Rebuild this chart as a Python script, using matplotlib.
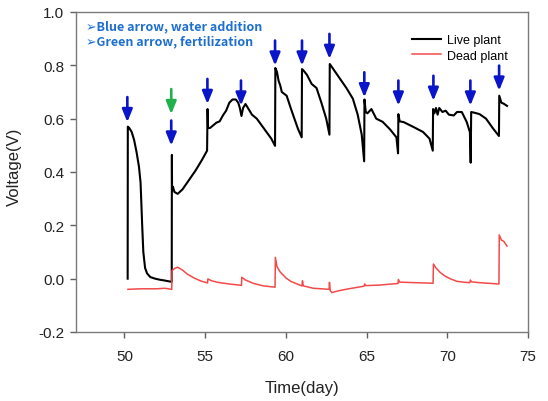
import matplotlib
matplotlib.use("Agg")
import matplotlib.pyplot as plt

plt.rcParams['font.family'] = ['Liberation Sans', 'DejaVu Sans']

# live plant voltage (V) vs time (day)
live_day = [50.20, 50.21, 50.30, 50.45, 50.60, 50.75, 50.90, 51.00, 51.05, 51.10,
            51.17, 51.28, 51.40, 51.60, 51.90, 52.20, 52.50, 52.75, 52.93, 52.94, 52.95,
            53.00, 53.10, 53.30, 53.60, 54.00, 54.40, 54.80, 55.12, 55.15, 55.18,
            55.30, 55.50, 55.70, 55.90, 56.10, 56.30, 56.50, 56.70, 56.90, 57.05,
            57.15, 57.25, 57.35, 57.50, 57.70, 57.90, 58.20, 58.50, 58.80, 59.10,
            59.33, 59.35, 59.45, 59.55, 59.65, 59.75, 60.05, 60.30, 60.50, 60.75,
            60.98, 61.00, 61.10, 61.30, 61.60, 61.90, 62.20, 62.50, 62.70, 62.72,
            62.95, 63.35, 63.75, 64.15, 64.45, 64.70, 64.85, 64.87, 64.95, 65.05,
            65.30, 65.60, 66.00, 66.45, 66.85, 66.95, 66.97, 67.05, 67.30, 67.90,
            68.50, 68.90, 69.10, 69.12, 69.20, 69.30, 69.40, 69.50, 69.70, 69.90,
            70.10, 70.40, 70.60, 70.90, 71.20, 71.40, 71.45, 71.48, 71.70, 72.00,
            72.40, 72.85, 73.20, 73.22, 73.35, 73.50, 73.70]
live_v = [0.000, 0.570, 0.565, 0.550, 0.520, 0.475, 0.420, 0.360, 0.280, 0.200,
          0.100, 0.040, 0.020, 0.006, 0.000, -0.004, -0.007, -0.010, -0.012, 0.464, 0.330,
          0.345, 0.325, 0.318, 0.335, 0.370, 0.405, 0.445, 0.480, 0.636, 0.565,
          0.565, 0.575, 0.585, 0.590, 0.612, 0.630, 0.660, 0.672, 0.672, 0.660,
          0.640, 0.610, 0.640, 0.655, 0.635, 0.615, 0.600, 0.575, 0.550, 0.525,
          0.498, 0.790, 0.775, 0.742, 0.725, 0.700, 0.686, 0.640, 0.605, 0.562,
          0.530, 0.786, 0.780, 0.765, 0.730, 0.715, 0.660, 0.600, 0.540, 0.805,
          0.785, 0.750, 0.715, 0.675, 0.615, 0.540, 0.440, 0.672, 0.625, 0.620,
          0.636, 0.600, 0.588, 0.560, 0.530, 0.470, 0.617, 0.590, 0.587, 0.569,
          0.550, 0.525, 0.480, 0.636, 0.620, 0.640, 0.615, 0.640, 0.625, 0.630,
          0.615, 0.612, 0.625, 0.625, 0.588, 0.550, 0.435, 0.625, 0.622, 0.617,
          0.600, 0.562, 0.535, 0.686, 0.660, 0.656, 0.648]

# dead plant voltage (V) vs time (day)
dead_day = [50.22, 51.00, 52.00, 52.50, 52.93, 52.95, 53.10, 53.30, 53.60, 53.90,
            54.30, 54.70, 55.15, 55.17, 55.40, 55.80, 56.50, 57.25, 57.27, 57.50,
            58.00, 58.60, 59.33, 59.35, 59.45, 59.65, 60.00, 60.30, 60.90, 61.00,
            61.03, 61.08, 61.70, 62.68, 62.70, 62.75, 62.85, 63.30, 63.80, 64.85,
            64.88, 64.95, 65.80, 66.95, 66.97, 67.05, 68.00, 69.12, 69.14, 69.30,
            69.55, 69.85, 70.17, 70.60, 71.00, 71.40, 71.43, 71.50, 72.00, 73.20,
            73.22, 73.35, 73.50, 73.70]
dead_v = [-0.040, -0.038, -0.038, -0.036, -0.040, 0.030, 0.038, 0.043, 0.032, 0.017,
          0.003, -0.008, -0.016, -0.001, -0.008, -0.014, -0.020, -0.025, 0.005, -0.005,
          -0.018, -0.027, -0.032, 0.080, 0.045, 0.025, 0.003, -0.010, -0.025, -0.027,
          -0.008, -0.027, -0.036, -0.040, -0.014, -0.045, -0.052, -0.045, -0.039, -0.028,
          -0.020, -0.026, -0.024, -0.018, -0.003, -0.013, -0.015, -0.017, 0.055, 0.040,
          0.024, 0.010, 0.000, -0.010, -0.013, -0.015, -0.005, -0.012, -0.015, -0.020,
          0.164, 0.145, 0.140, 0.122]

# blue arrows (water addition): day and tip height
water_day = [50.18, 52.90, 55.14, 57.22, 59.33, 61.00, 62.70, 64.86, 66.97, 69.14, 71.43, 73.21]
water_tip = [0.587, 0.499, 0.655, 0.649, 0.799, 0.799, 0.824, 0.680, 0.649, 0.667, 0.649, 0.705]
# green arrow (fertilization)
fert_day = [52.90]
fert_tip = [0.617]
arrow_len = 0.094

fig = plt.figure(figsize=(5.48, 4.02), dpi=100)
ax = fig.add_axes([76 / 548, 69 / 402, 452 / 548, 320 / 402])

ax.plot(live_day, live_v, color='black', lw=1.5, label='Live plant')
ax.plot(dead_day, dead_v, color='#f24a4a', lw=1.1, label='Dead plant')


def draw_arrows(days, tips, color):
    for d, t in zip(days, tips):
        ax.annotate('', xy=(d, t), xytext=(d, t + arrow_len),
                    arrowprops=dict(arrowstyle='-|>,head_length=0.42,head_width=0.17',
                                    color=color, lw=1.9, mutation_scale=18,
                                    shrinkA=0, shrinkB=0))


draw_arrows(water_day, water_tip, '#0a14c8')
draw_arrows(fert_day, fert_tip, '#22b04a')

ax.text(0.022, 0.978, '➢Blue arrow, water addition\n➢Green arrow, fertilization',
        transform=ax.transAxes, ha='left', va='top', color='#1f6fd0',
        fontsize=9, fontweight='bold', linespacing=1.25,
        family=['Noto Sans CJK KR', 'DejaVu Sans'])

ax.set_xlim(47, 75)
ax.set_ylim(-0.2, 1.0)
ax.set_xticks([50, 55, 60, 65, 70, 75])
ax.set_yticks([-0.2, 0.0, 0.2, 0.4, 0.6, 0.8, 1.0])
ax.set_yticklabels(['-0.2', '0.0', '0.2', '0.4', '0.6', '0.8', '1.0'])
ax.tick_params(direction='out', length=4.5, width=1, color='#606060',
               labelsize=11, labelcolor='#222222')
ax.tick_params(axis='x', pad=8)
ax.tick_params(axis='y', pad=4)
for s in ax.spines.values():
    s.set_color('#7a7a7a')
    s.set_linewidth(1)

ax.set_xlabel('Time(day)', fontsize=12, color='#222222')
ax.set_ylabel('Voltage(V)', fontsize=12, color='#222222')
ax.xaxis.set_label_coords(0.5, -0.15)
ax.yaxis.set_label_coords(-0.12, 0.52)

ax.legend(loc='upper left', bbox_to_anchor=(0.743, 0.93), frameon=False,
          fontsize=9, handlelength=2.3, handletextpad=0.5, labelspacing=0.25,
          borderpad=0, borderaxespad=0)

fig.savefig('out.png', dpi=100)
